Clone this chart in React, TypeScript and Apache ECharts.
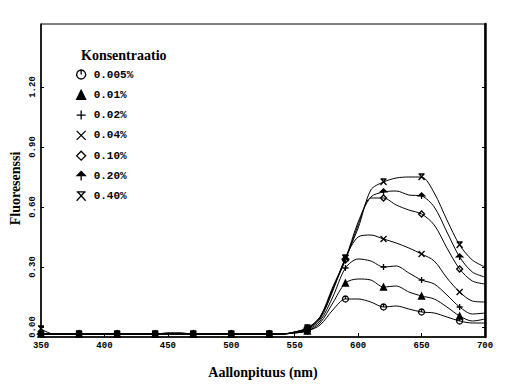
import React, { useEffect, useRef } from "react";
import * as echarts from "echarts";

const wavelengths = [350,360,370,380,390,400,410,420,430,440,450,460,470,480,490,500,510,520,530,540,550,560,570,580,590,600,610,620,630,640,650,660,670,680,690,700];
const markerWavelengths = [350,380,410,440,470,500,530,560,590,620,650,680];
const yTicks = [0, 0.3, 0.6, 0.9, 1.2];
const seriesNames = ["0.005%", "0.01%", "0.02%", "0.04%", "0.10%", "0.20%", "0.40%"];

const base = [-0.035,-0.035,-0.035,-0.035,-0.035,-0.035,-0.035,-0.035,-0.035,-0.035,-0.035,-0.035,-0.035,-0.035,-0.035,-0.035,-0.035,-0.035,-0.035,-0.035];

const c0005 = [...base.slice(0,10),-0.03,-0.03,...base.slice(12), -0.03,-0.02,0.01,0.085,0.14,0.14,0.125,0.10,0.105,0.09,0.075,0.07,0.05,0.03,0.02,0.02];
const c001 = [...base, -0.03,-0.02,0.02,0.12,0.22,0.24,0.235,0.20,0.205,0.175,0.155,0.14,0.10,0.055,0.03,0.04];
const c002 = [...base, -0.028,-0.015,0.03,0.15,0.295,0.34,0.33,0.30,0.305,0.27,0.235,0.215,0.16,0.10,0.065,0.07];
const c004 = [...base.slice(0,10),-0.03,-0.03,...base.slice(12), -0.027,-0.01,0.04,0.18,0.345,0.45,0.46,0.44,0.42,0.395,0.365,0.33,0.245,0.175,0.13,0.125];
const c010 = [...base, -0.025,-0.008,0.045,0.19,0.335,0.51,0.645,0.645,0.61,0.585,0.565,0.51,0.395,0.29,0.23,0.215];
const c020 = [...base, -0.025,-0.005,0.05,0.20,0.34,0.525,0.65,0.675,0.68,0.66,0.655,0.60,0.475,0.35,0.275,0.25];
const c040 = [-0.01,...base.slice(1), -0.025,-0.005,0.05,0.19,0.345,0.495,0.685,0.725,0.745,0.75,0.75,0.67,0.535,0.41,0.335,0.30];

const seriesValues = [c0005, c001, c002, c004, c010, c020, c040];

const symbols = [
  "path://M5,1a4,4 0 1,0 0.001,0 M5,1 L5,5",
  "triangle",
  "path://M5,0 L5,10 M0,5 L10,5",
  "path://M0,0 L10,10 M10,0 L0,10",
  "path://M5,0 L10,5 L5,10 L0,5 Z",
  "path://M0,5 L5,0 L10,5 Z M5,5 L5,11",
  "path://M0,0 L10,0 M1,0 L10,10 M9,0 L0,10",
];
const filled = [false, true, false, false, false, true, false];

export default function App() {
  const ref = useRef<HTMLDivElement>(null);
  useEffect(() => {
    if (!ref.current) return;
    const chart = echarts.init(ref.current, null, { renderer: "svg" });
    const itemStyleFor = (i: number) => ({
      color: filled[i] ? "#000" : "rgba(0,0,0,0)",
      borderColor: "#000",
      borderWidth: 1.3,
    });
    const series = seriesNames.map((name, i) => ({
      name,
      type: "line",
      smooth: 0.3,
      showSymbol: true,
      symbolSize: 6,
      itemStyle: itemStyleFor(i),
      lineStyle: { color: "#000", width: 1 },
      emphasis: { disabled: true },
      data: wavelengths.map((w, k) => ({
        value: [w, seriesValues[i][k]],
        symbol: markerWavelengths.includes(w) ? symbols[i] : "none",
      })),
      z: 3,
    }));
    chart.setOption({
      animation: false,
      backgroundColor: "#fff",
      title: {
        text: "Konsentraatio",
        left: 76,
        top: 43,
        textStyle: { fontFamily: "Liberation Serif", fontWeight: "bold", fontSize: 14, color: "#000" },
      },
      legend: {
        orient: "vertical",
        left: 71,
        top: 64,
        itemWidth: 9,
        itemHeight: 9,
        itemGap: 9.3,
        selectedMode: false,
        textStyle: { fontFamily: "Liberation Mono", fontSize: 11, fontWeight: "bold", color: "#000", padding: [0, 0, 0, 3] },
        data: seriesNames.map((name, i) => ({ name, icon: symbols[i], itemStyle: itemStyleFor(i) })),
      },
      grid: { left: 41, right: 31, top: 24, bottom: 47, show: true, borderColor: "#000", borderWidth: 1, outerBoundsMode: "none" },
      xAxis: {
        type: "value",
        min: 350,
        max: 700,
        interval: 50,
        name: "Aallonpituus (nm)",
        nameLocation: "middle",
        nameGap: 28,
        nameMoveOverlap: false,
        nameTextStyle: { fontFamily: "Liberation Serif", fontWeight: "bold", fontSize: 14, color: "#000" },
        axisLine: { show: true, onZero: false, lineStyle: { color: "#000", width: 1.5 } },
        axisTick: { show: true, inside: true, length: 4, lineStyle: { color: "#000" } },
        axisLabel: { fontFamily: "Liberation Mono", fontSize: 9, fontWeight: "bold", color: "#000", margin: 4 },
        splitLine: { show: false },
      },
      yAxis: [
        {
          type: "value",
          min: -0.05,
          max: 1.515,
          name: "Fluoresenssi",
          nameLocation: "middle",
          nameGap: 19,
          nameMoveOverlap: false,
          nameTextStyle: { fontFamily: "Liberation Serif", fontWeight: "bold", fontSize: 14, color: "#000", padding: [0, 16, 0, 0] },
          axisLine: { show: true, onZero: false, lineStyle: { color: "#000", width: 1.5 } },
          axisTick: { show: true, inside: true, length: 3, customValues: yTicks, lineStyle: { color: "#000" } },
          axisLabel: {
            customValues: yTicks,
            rotate: 90,
            fontFamily: "Liberation Mono",
            fontSize: 9,
            fontWeight: "bold",
            color: "#000",
            margin: 4,
            formatter: (v: number) => v.toFixed(2),
          },
          splitLine: { show: false },
        },
        {
          type: "value",
          position: "right",
          min: -0.05,
          max: 1.515,
          axisLine: { show: true, onZero: false, lineStyle: { color: "#000", width: 2.5 } },
          axisTick: { show: true, inside: true, length: 3, customValues: yTicks, lineStyle: { color: "#000" } },
          axisLabel: { show: false },
          splitLine: { show: false },
        },
      ],
      series,
    });
    return () => chart.dispose();
  }, []);
  return <div ref={ref} style={{ width: 516, height: 384, position: "absolute", left: 0, top: 0 }} />;
}
